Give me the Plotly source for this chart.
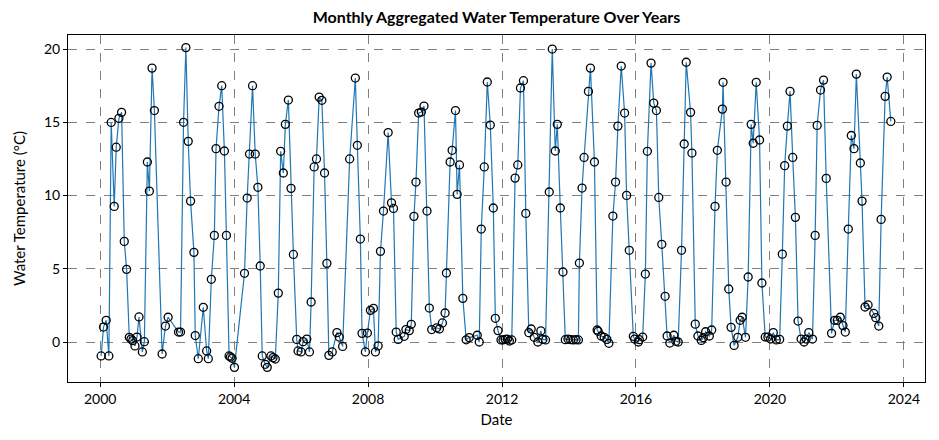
import plotly.graph_objects as go

years = [
    2000.03, 2000.10, 2000.18, 2000.26, 2000.33, 2000.42, 2000.48, 2000.56, 2000.64, 2000.72,
    2000.79, 2000.87, 2000.92, 2000.97, 2001.04, 2001.10, 2001.16, 2001.26, 2001.32, 2001.41,
    2001.47, 2001.55, 2001.62, 2001.85, 2001.95, 2002.03, 2002.34, 2002.40, 2002.49, 2002.56,
    2002.63, 2002.70, 2002.80, 2002.84, 2002.93, 2003.08, 2003.18, 2003.23, 2003.32, 2003.41,
    2003.46, 2003.55, 2003.63, 2003.71, 2003.77, 2003.85, 2003.89, 2003.94, 2004.01, 2004.31,
    2004.39, 2004.46, 2004.55, 2004.63, 2004.71, 2004.78, 2004.84, 2004.93, 2004.99, 2005.10,
    2005.16, 2005.23, 2005.32, 2005.39, 2005.47, 2005.53, 2005.62, 2005.70, 2005.77, 2005.87,
    2005.91, 2006.00, 2006.06, 2006.17, 2006.25, 2006.30, 2006.39, 2006.46, 2006.54, 2006.62,
    2006.70, 2006.77, 2006.83, 2006.93, 2007.07, 2007.14, 2007.24, 2007.45, 2007.62, 2007.68,
    2007.77, 2007.82, 2007.92, 2007.98, 2008.07, 2008.16, 2008.22, 2008.30, 2008.37, 2008.46,
    2008.60, 2008.70, 2008.76, 2008.84, 2008.90, 2009.08, 2009.13, 2009.23, 2009.29, 2009.37,
    2009.43, 2009.51, 2009.59, 2009.67, 2009.76, 2009.83, 2009.90, 2010.05, 2010.13, 2010.22,
    2010.30, 2010.34, 2010.45, 2010.51, 2010.61, 2010.66, 2010.73, 2010.83, 2010.93, 2011.02,
    2011.26, 2011.32, 2011.38, 2011.47, 2011.56, 2011.65, 2011.74, 2011.80, 2011.88, 2011.97,
    2012.03, 2012.10, 2012.16, 2012.22, 2012.29, 2012.39, 2012.47, 2012.55, 2012.64, 2012.71,
    2012.80, 2012.87, 2012.96, 2013.07, 2013.16, 2013.22, 2013.30, 2013.41, 2013.50, 2013.59,
    2013.65, 2013.74, 2013.82, 2013.89, 2013.97, 2014.05, 2014.13, 2014.21, 2014.28, 2014.31,
    2014.39, 2014.45, 2014.58, 2014.64, 2014.76, 2014.84, 2014.87, 2014.96, 2015.05, 2015.13,
    2015.19, 2015.31, 2015.39, 2015.46, 2015.56, 2015.66, 2015.72, 2015.80, 2015.92, 2015.96,
    2016.07, 2016.10, 2016.20, 2016.28, 2016.34, 2016.45, 2016.53, 2016.61, 2016.68, 2016.77,
    2016.87, 2016.93, 2017.01, 2017.13, 2017.19, 2017.26, 2017.36, 2017.44, 2017.50, 2017.63,
    2017.67, 2017.77, 2017.85, 2017.95, 2018.01, 2018.08, 2018.19, 2018.26, 2018.36, 2018.43,
    2018.58, 2018.60, 2018.69, 2018.77, 2018.84, 2018.93, 2019.04, 2019.11, 2019.17, 2019.27,
    2019.35, 2019.44, 2019.50, 2019.59, 2019.69, 2019.76, 2019.86, 2019.94, 2020.02, 2020.10,
    2020.19, 2020.29, 2020.37, 2020.44, 2020.52, 2020.60, 2020.68, 2020.76, 2020.84, 2020.93,
    2021.02, 2021.08, 2021.16, 2021.27, 2021.35, 2021.41, 2021.51, 2021.60, 2021.68, 2021.84,
    2021.93, 2022.01, 2022.10, 2022.18, 2022.25, 2022.34, 2022.43, 2022.51, 2022.58, 2022.70,
    2022.75, 2022.84, 2022.93, 2023.10, 2023.16, 2023.25, 2023.32, 2023.44, 2023.50, 2023.61,
]

temps = [
    -0.95, 1.02, 1.48, -0.95, 14.99, 9.26, 13.3, 15.27, 15.68, 6.87,
    4.96, 0.32, 0.2, 0.09, -0.27, 0.34, 1.71, -0.68, 0.02, 12.29,
    10.3, 18.7, 15.8, -0.82, 1.09, 1.69, 0.68, 0.68, 15.0, 20.1,
    13.7, 9.62, 6.12, 0.44, -1.14, 2.37, -0.61, -1.14, 4.28, 7.28,
    13.2, 16.09, 17.5, 13.04, 7.28, -0.95, -1.02, -1.11, -1.73, 4.69,
    9.83, 12.83, 17.5, 12.83, 10.56, 5.19, -0.95, -1.52, -1.73, -0.95,
    -1.07, -1.16, 3.34, 13.02, 11.54, 14.86, 16.52, 10.49, 5.98, 0.18,
    -0.61, -0.68, 0.02, 0.2, -0.68, 2.73, 11.95, 12.5, 16.72, 16.5,
    11.54, 5.37, -0.91, -0.68, 0.64, 0.34, -0.3, 12.5, 18.02, 13.43,
    7.03, 0.59, -0.68, 0.61, 2.16, 2.3, -0.68, -0.27, 6.19, 8.94,
    14.3, 9.5, 9.12, 0.68, 0.18, 0.39, 0.85, 0.78, 1.21, 8.58,
    10.92, 15.63, 15.7, 16.11, 8.94, 2.32, 0.85, 0.97, 0.89, 1.3,
    1.98, 4.71, 12.29, 13.09, 15.8, 10.08, 12.09, 2.98, 0.15, 0.3,
    0.46, 0.0, 7.71, 11.95, 17.75, 14.81, 9.15, 1.62, 0.78, 0.14,
    0.14, 0.18, 0.2, 0.07, 0.14, 11.19, 12.09, 17.34, 17.84, 8.78,
    0.64, 0.89, 0.32, 0.0, 0.76, 0.18, 0.14, 10.24, 20.0, 13.04,
    14.86, 9.15, 4.78, 0.16, 0.2, 0.16, 0.14, 0.16, 0.14, 5.39,
    10.51, 12.6, 17.11, 18.7, 12.29, 0.82, 0.73, 0.41, 0.32, 0.18,
    -0.09, 8.6, 10.92, 14.74, 18.84, 15.63, 10.01, 6.26, 0.39, 0.2,
    0.0, 0.16, 0.34, 4.64, 13.02, 19.04, 16.31, 15.8, 9.87, 6.67,
    3.12, 0.41, -0.07, 0.46, 0.05, 0.0, 6.26, 13.52, 19.1, 15.68,
    12.9, 1.22, 0.41, 0.11, 0.29, 0.7, 0.41, 0.82, 9.26, 13.09,
    15.9, 17.73, 10.92, 3.62, 1.0, -0.23, 0.32, 1.48, 1.69, 0.32,
    4.44, 14.86, 13.57, 17.73, 13.79, 4.03, 0.34, 0.34, 0.2, 0.64,
    0.14, 0.18, 6.0, 12.04, 14.74, 17.11, 12.6, 8.51, 1.43, 0.2,
    0.0, 0.2, 0.64, 0.2, 7.28, 14.79, 17.2, 17.88, 11.17, 0.59,
    1.48, 1.48, 1.69, 1.12, 0.68, 7.71, 14.1, 13.2, 18.29, 12.22,
    9.62, 2.39, 2.53, 1.95, 1.66, 1.09, 8.37, 16.77, 18.09, 15.06,
]

x_ticks = [2000, 2004, 2008, 2012, 2016, 2020, 2024]
y_ticks = [0, 5, 10, 15, 20]

FONT = "Lato, 'Open Sans', sans-serif"

# page body has an 8px margin, so the figure is sized to fill the rest of the window
W, H = 931, 432
L, R, T, B = 60, 14, 27, 58

fig = go.Figure()
fig.add_trace(go.Scatter(
    x=years, y=temps, mode="lines+markers",
    line=dict(color="#1f77b4", width=1.2),
    marker=dict(symbol="circle-open", size=8, color="black", line=dict(width=1.3, color="black")),
    showlegend=False,
))

axis_common = dict(
    showline=True, linecolor="black", linewidth=1, mirror=True,
    ticks="outside", ticklen=4, tickcolor="black",
    showgrid=True, gridcolor="gray", griddash="dash", gridwidth=0.8,
    zeroline=False, automargin=False,
    tickfont=dict(size=14, color="black", family=FONT),
)

fig.update_layout(
    width=W, height=H,
    margin=dict(l=L, r=R, t=T, b=B, autoexpand=False),
    paper_bgcolor="white", plot_bgcolor="white",
    title=dict(text="<b>Monthly Aggregated Water Temperature Over Years</b>",
               x=(L + (W - R)) / 2 / W, xanchor="center", y=1 - 9.5 / H, yanchor="middle",
               font=dict(size=16, color="black", family=FONT)),
    xaxis=dict(range=[1999.04, 2024.63], tickvals=x_ticks, ticktext=[str(t) for t in x_ticks],
               title=dict(text="Date", font=dict(size=15, color="black", family=FONT), standoff=8),
               **axis_common),
    yaxis=dict(range=[-2.73, 20.96], tickvals=y_ticks,
               title=dict(text="Water Temperature (°C)", font=dict(size=15, color="black", family=FONT), standoff=14),
               **axis_common),
)

fig.write_html("out.html")
